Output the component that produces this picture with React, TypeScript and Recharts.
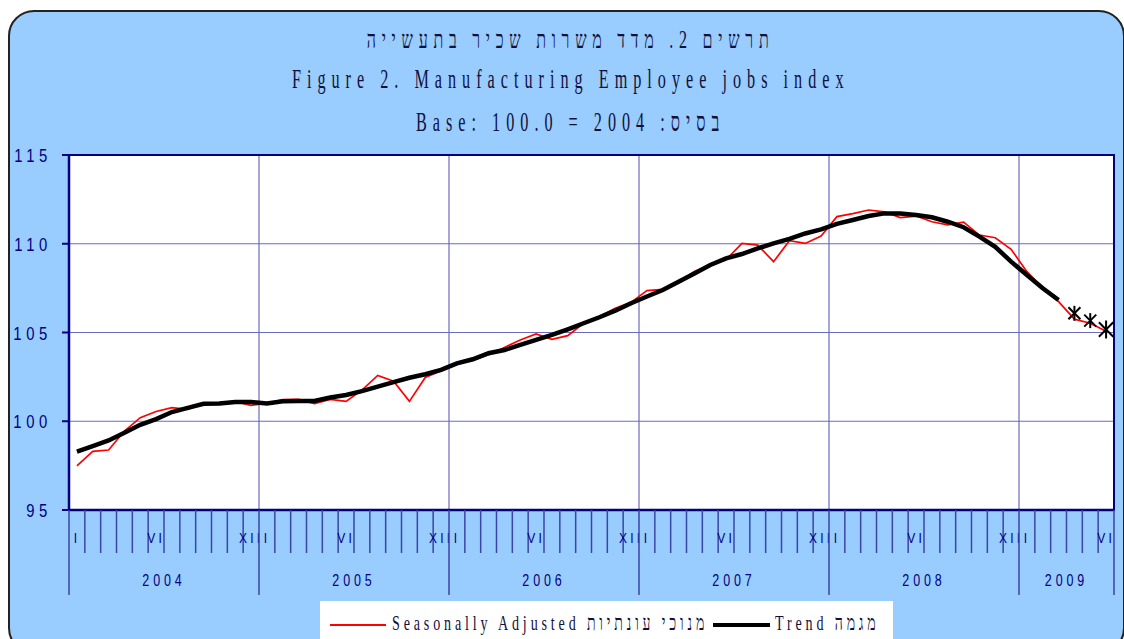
import React from "react";
import {
  LineChart,
  Line,
  XAxis,
  YAxis,
  CartesianGrid,
  ReferenceArea,
} from "recharts";

// chart data
const years = ["2004", "2005", "2006", "2007", "2008", "2009"];
const monthsInYear = [12, 12, 12, 12, 12, 6];
const romanMonths = ["I", "", "", "", "", "VI", "", "", "", "", "", "XII"];

// Jan 2004 .. Jun 2009
const seasonallyAdjusted = [
  97.48, 98.3, 98.38, 99.45, 100.2, 100.55, 100.77, 100.67, 101.0, 101.03, 101.1, 100.9,
  101.0, 101.22, 101.23, 101.0, 101.23, 101.12, 101.76, 102.58, 102.26, 101.12, 102.47, 102.85,
  103.26, 103.42, 103.75, 104.16, 104.58, 104.92, 104.62, 104.82, 105.52, 105.9, 106.36, 106.7,
  107.36, 107.43, 107.86, 108.43, 108.8, 109.1, 110.02, 109.92, 108.99, 110.17, 110.02, 110.44,
  111.53, 111.7, 111.9, 111.8, 111.47, 111.56, 111.24, 111.06, 111.22, 110.49, 110.34, 109.69,
  108.43, 107.49, 106.74, 105.75, 105.52, 105.07,
];

// Jan 2004 .. Mar 2009
const trend = [
  98.29, 98.6, 98.92, 99.35, 99.8, 100.12, 100.52, 100.75, 100.98, 101.0, 101.08, 101.08,
  101.0, 101.12, 101.14, 101.14, 101.34, 101.48, 101.7, 101.95, 102.2, 102.45, 102.65, 102.89,
  103.26, 103.49, 103.83, 104.01, 104.3, 104.58, 104.86, 105.18, 105.52, 105.86, 106.23, 106.65,
  107.03, 107.39, 107.86, 108.33, 108.8, 109.18, 109.42, 109.74, 110.02, 110.27, 110.58, 110.81,
  111.12, 111.34, 111.56, 111.71, 111.71, 111.62, 111.49, 111.24, 110.93, 110.4, 109.83, 108.99,
  108.24, 107.49, 106.83,
];

// Apr .. Jun 2009, drawn as asterisks only
const trendEstimate = [106.08, 105.67, 105.17];

const seriesNames = {
  sa: "Seasonally Adjusted מנוכי עונתיות",
  trend: "Trend מגמה",
};

const yTicks = [95, 100, 105, 110, 115];

type Row = {
  key: string;
  yearIdx: number;
  month: number;
  sa: number;
  trend: number | null;
  est: number | null;
};

const rows: Row[] = [];
years.forEach((yr, yi) => {
  for (let m = 0; m < monthsInYear[yi]; m++) {
    const i = rows.length;
    const estIdx = i - trend.length;
    rows.push({
      key: `${yr}-${m + 1}`,
      yearIdx: yi,
      month: m,
      sa: seasonallyAdjusted[i],
      trend: i < trend.length ? trend[i] : null,
      est: estIdx >= 0 && estIdx < trendEstimate.length ? trendEstimate[estIdx] : null,
    });
  }
});

const CHART_W = 1124;
const CHART_H = 639;
const YAXIS_W = 69;
const M_RIGHT = 10;
const M_TOP = 155;
const XAXIS_H = 90;
const M_BOTTOM = 39;
const PLOT_W = CHART_W - YAXIS_W - M_RIGHT;
const BW = PLOT_W / rows.length;

const NAVY = "#000080";
const GRID = "#6b6bbd";
const TICKBLUE = "#3a45a8";
const sansFont = "'Liberation Sans', Arial, sans-serif";
const serifFont = "'Liberation Serif', 'Times New Roman', serif";

function MonthTick(props: any) {
  const { x, y, payload } = props;
  const i = payload.index;
  const d = rows[i];
  if (!d) return null;
  const left = x - BW / 2;
  const yearStart = d.month === 0;
  const label = romanMonths[d.month];
  return (
    <g>
      <line x1={left} x2={left} y1={y} y2={y + (yearStart ? 85 : 43)} stroke={TICKBLUE} strokeWidth={1.5} />
      {i === rows.length - 1 && (
        <line x1={x + BW / 2} x2={x + BW / 2} y1={y} y2={y + 85} stroke={TICKBLUE} strokeWidth={1.5} />
      )}
      {label && (
        <text
          transform={`translate(${x},${y + 33}) scale(0.8,1)`}
          textAnchor="middle"
          fontFamily={sansFont}
          fontSize={15}
          letterSpacing={4}
          fill={NAVY}
        >
          {label}
        </text>
      )}
      {yearStart && (
        <text
          transform={`translate(${left + (monthsInYear[d.yearIdx] * BW) / 2},${y + 76}) scale(0.78,1)`}
          textAnchor="middle"
          fontFamily={sansFont}
          fontSize={16}
          letterSpacing={5}
          fill={NAVY}
        >
          {years[d.yearIdx]}
        </text>
      )}
    </g>
  );
}

function ValueTick(props: any) {
  const { x, y, payload } = props;
  return (
    <text
      transform={`translate(${x},${y + 7}) scale(0.78,1)`}
      textAnchor="end"
      fontFamily={sansFont}
      fontSize={19}
      letterSpacing={6}
      fill={NAVY}
    >
      {payload.value}
    </text>
  );
}

function Asterisk(props: any) {
  const { cx, cy, value, index } = props;
  if (value == null || cy == null) return <g key={index} />;
  const r = index === rows.length - 1 ? 9 : 7.5;
  const d = r * 0.8;
  return (
    <g key={index} stroke="#000" strokeWidth={2}>
      <line x1={cx} x2={cx} y1={cy - r} y2={cy + r} />
      <line x1={cx - d} x2={cx + d} y1={cy - d} y2={cy + d} />
      <line x1={cx - d} x2={cx + d} y1={cy + d} y2={cy - d} />
    </g>
  );
}

const yearLines = () => {
  let acc = 0;
  return monthsInYear.slice(0, -1).map((c) => {
    acc += c;
    return YAXIS_W + acc * BW;
  });
};

function TitleLine({ text, top, size, spacing, sx }: { text: string; top: number; size: number; spacing: number; sx: number }) {
  return (
    <div style={{ position: "absolute", left: 0, width: 1142, top, textAlign: "center", lineHeight: 1 }}>
      <span
        style={{
          display: "inline-block",
          whiteSpace: "pre",
          fontFamily: serifFont,
          fontSize: size,
          letterSpacing: spacing,
          transform: `scaleX(${sx})`,
          color: "#10103a",
        }}
      >
        {text}
      </span>
    </div>
  );
}

const legendText: React.CSSProperties = {
  position: "absolute",
  top: 11,
  whiteSpace: "pre",
  fontFamily: serifFont,
  fontSize: 22,
  letterSpacing: 6,
  lineHeight: 1,
  transform: "scaleX(0.64)",
  transformOrigin: "0 0",
  color: "#10103a",
};

export default function App() {
  return (
    <div style={{ position: "absolute", left: 0, top: 0, width: CHART_W, height: CHART_H, overflow: "hidden", background: "#fff" }}>
      <div
        style={{
          position: "absolute",
          left: 8,
          top: 10,
          width: 1113,
          height: 640,
          background: "#99CCFF",
          border: "2px solid #222",
          borderRadius: 26,
        }}
      />
      <TitleLine text="תרשים 2. מדד משרות שכיר בתעשייה" top={27} size={25} spacing={9} sx={0.64} />
      <TitleLine text="Figure 2. Manufacturing Employee jobs index" top={66} size={27} spacing={10} sx={0.6} />
      <TitleLine text="Base: 100.0 = 2004 :בסיס" top={109} size={27} spacing={10} sx={0.6} />

      <div style={{ position: "absolute", left: 0, top: 0 }}>
        <LineChart
          width={CHART_W}
          height={CHART_H}
          data={rows}
          margin={{ top: M_TOP, right: M_RIGHT, bottom: M_BOTTOM, left: 0 }}
        >
          <CartesianGrid
            fill="#fff"
            fillOpacity={1}
            stroke={GRID}
            strokeWidth={1.2}
            verticalCoordinatesGenerator={yearLines}
          />
          <XAxis
            dataKey="key"
            scale="band"
            interval={0}
            height={XAXIS_H}
            tickSize={0}
            tickMargin={0}
            tickLine={false}
            axisLine={{ stroke: NAVY, strokeWidth: 2.5 }}
            tick={<MonthTick />}
          />
          <YAxis
            width={YAXIS_W}
            domain={[95, 115]}
            ticks={yTicks}
            interval={0}
            tickSize={7}
            tickMargin={10}
            tickLine={{ stroke: NAVY, strokeWidth: 2 }}
            axisLine={{ stroke: NAVY, strokeWidth: 2.5 }}
            tick={<ValueTick />}
          />
          <ReferenceArea y1={95} y2={115} fill="none" stroke={NAVY} strokeWidth={2} />
          <Line
            dataKey="sa"
            name={seriesNames.sa}
            stroke="#ff0000"
            strokeWidth={1.7}
            dot={false}
            activeDot={false}
            isAnimationActive={false}
          />
          <Line
            dataKey="trend"
            name={seriesNames.trend}
            stroke="#000"
            strokeWidth={4.5}
            dot={false}
            activeDot={false}
            isAnimationActive={false}
          />
          <Line
            dataKey="est"
            stroke="none"
            dot={<Asterisk />}
            activeDot={false}
            legendType="none"
            isAnimationActive={false}
          />
        </LineChart>
      </div>

      {/* legend */}
      <div style={{ position: "absolute", left: 320, top: 601, width: 573, height: 45, background: "#fff" }}>
        <div style={{ position: "absolute", left: 10, top: 23, width: 56, height: 2, background: "#ff0000" }} />
        <span style={{ ...legendText, left: 72 }}>{seriesNames.sa}</span>
        <div style={{ position: "absolute", left: 393, top: 22, width: 57, height: 4, background: "#000" }} />
        <span style={{ ...legendText, left: 455 }}>{seriesNames.trend}</span>
      </div>
    </div>
  );
}
